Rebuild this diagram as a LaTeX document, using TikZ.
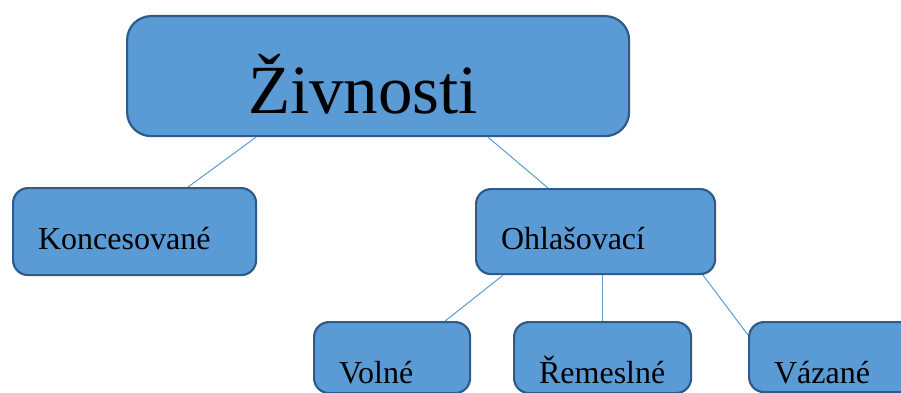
\documentclass[tikz,border=0pt]{standalone}
\usepackage{fontspec}
\setmainfont{Liberation Serif}
\usepackage{tikz}
\definecolor{boxfill}{HTML}{5B9BD5}
\definecolor{boxline}{HTML}{2F5B8A}
\tikzstyle{box}=[draw=boxline, fill=boxfill, line width=2.2pt, rounded corners=15pt, anchor=north west, inner xsep=25pt, inner ysep=0pt, align=left, font=\fontsize{32}{38}\selectfont, text depth=0pt]
\tikzstyle{bigbox}=[box, rounded corners=24pt, inner xsep=121pt, font=\fontsize{69}{80}\selectfont]
\tikzstyle{conn}=[draw=boxfill, line width=1pt]

\begin{document}
\begin{tikzpicture}[x=1pt, y=-1pt]
		   \useasboundingbox (0,0) rectangle (901,393);
		   \clip (0,0) rectangle (901,393);
		   \begin{scope}
			   \node (zivnosti) at (126, 15)[bigbox, minimum width=502pt, minimum height=120pt, text width=260pt, text height=74pt] {Živnosti};
			   \node (konc) at (12, 187)[box, minimum width=243pt, minimum height=87pt, text width=193pt, text height=35pt] {Koncesované};
			   \node (ohlas) at (475, 188)[box, minimum width=239pt, minimum height=85pt, text width=189pt, text height=35pt] {Ohlašovací};
			   \node (volne) at (313, 321)[box, minimum width=156pt, minimum height=71pt, text width=106pt, text height=52pt] {Volné};
			   \node (remes) at (513, 321)[box, minimum width=177pt, minimum height=71pt, text width=127pt, text height=52pt] {Řemeslné};
			   \node (vazane) at (748, 321)[box, minimum width=200pt, minimum height=70pt, text width=150pt, text height=52pt] {Vázané};
		   \end{scope}
		   \begin{scope}
			   \path [conn] ([xshift=130pt]zivnosti.south west) -- ([xshift=176pt]konc.north west);
			   \path [conn] ([xshift=362pt]zivnosti.south west) -- ([xshift=73pt]ohlas.north west);
			   \path [conn] ([xshift=28pt]ohlas.south west) -- ([xshift=-26pt]volne.north east);
			   \path [conn] ([xshift=127pt]ohlas.south west) -- ([xshift=89pt]remes.north west);
			   \path [conn] ([xshift=228pt]ohlas.south west) -- ([yshift=-14pt]vazane.north west);
		   \end{scope}
\end{tikzpicture}
\end{document}
